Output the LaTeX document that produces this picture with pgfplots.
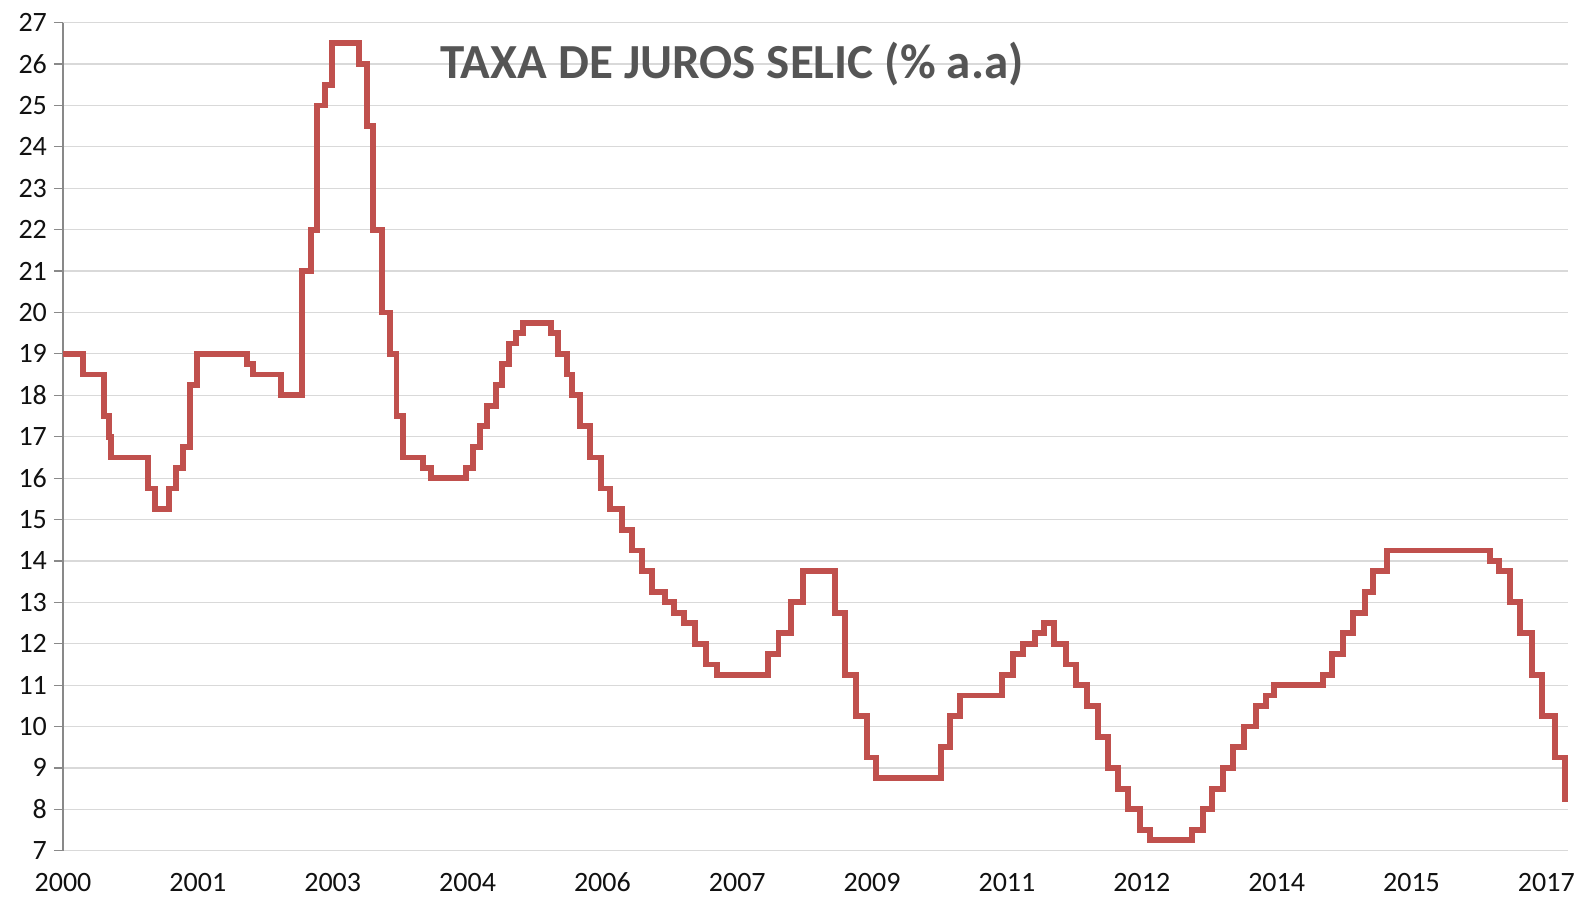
\documentclass[border=0pt]{standalone}
\usepackage{fontspec}
\setmainfont{Carlito}
\usepackage{pgfplots}
\pgfplotsset{compat=1.18}
\usetikzlibrary{calc}
\definecolor{SelicRed}{HTML}{C0504D}
\definecolor{GridGray}{HTML}{D9D9D9}
\definecolor{AxisGray}{HTML}{898989}
\definecolor{TitleGray}{HTML}{555555}
\definecolor{TickBlack}{HTML}{111111}

% Taxa Selic, step points (x in chart units, rate in % a.a.)
\pgfplotstableread{
x      rate
63     19
83.3   18.5
104.3  17.5
109    17
111    16.5
148.3  15.75
155    15.25
169.3  15.75
175.7  16.25
183.3  16.75
190    18.25
197.3  19
246.7  18.75
253.3  18.5
281    18
302.3  21
310.7  22
316.7  25
325    25.5
331.7  26.5
359    26
366.7  24.5
373.3  22
381.7  20
390    19
396.5  17.5
403    16.5
423.3  16.25
430.7  16
466    16.25
473.3  16.75
480    17.25
486.7  17.75
496    18.25
501.7  18.75
509    19.25
516    19.5
522.7  19.75
550.7  19.5
558.3  19
566.7  18.5
571.7  18
580    17.25
590    16.5
600.7  15.75
610    15.25
621.7  14.75
631.7  14.25
642.3  13.75
651.7  13.25
665    13
674    12.75
684    12.5
695    12
706    11.5
717.3  11.25
768.3  11.75
778.5  12.25
791    13
803.3  13.75
835    12.75
845    11.25
856    10.25
866.7  9.25
876    8.75
940.7  9.5
950    10.25
960    10.75
1002.3 11.25
1013.3 11.75
1023.3 12
1035   12.25
1044   12.5
1054   12
1066   11.5
1076   11
1087.3 10.5
1098.3 9.75
1107.7 9
1118.3 8.5
1127.7 8
1140   7.5
1150   7.25
1191.7 7.5
1202.7 8
1211.7 8.5
1223.3 9
1233.3 9.5
1244.3 10
1256   10.5
1266   10.75
1274   11
1323.3 11.25
1331.7 11.75
1342.7 12.25
1352.7 12.75
1365   13.25
1373.3 13.75
1386.7 14.25
1490   14
1499.3 13.75
1510   13
1520   12.25
1531.7 11.25
1541.7 10.25
1555   9.25
1565   8.25
1568   8.25
}\selic

\begin{document}
\begin{tikzpicture}
  \begin{axis}[
      x=0.5pt, y=20.7pt,
      xmin=63, xmax=1568, ymin=7, ymax=27,
      axis lines*=left,
      x axis line style={draw=none},
      y axis line style={AxisGray,line width=0.6pt},
      xtick={63,197.85,332.7,467.55,602.4,737.25,872.1,1006.95,1141.8,1276.65,1411.5,1546.35},
      xticklabels={2000,2001,2003,2004,2006,2007,2009,2011,2012,2014,2015,2017},
      ytick={7,8,...,27},
      xtick style={draw=none},
      ytick style={AxisGray,line width=0.6pt},
      tick align=outside,
      major tick length=4.5pt,
      ymajorgrids,
      grid style={GridGray,line width=0.6pt},
      tick label style={font=\fontsize{14}{15}\selectfont,text=TickBlack},
      xticklabel style={anchor=north,yshift=-2.5pt,text height=10pt,text depth=0pt},
      /pgf/number format/assume math mode=true,
      clip=false,
    ]
    \coordinate (ll) at (rel axis cs:0,0);
    \coordinate (ur) at (rel axis cs:1,1);
    \addplot[const plot,SelicRed,line width=2.9pt] table[x=x,y=rate] {\selic};
    \node[anchor=base,font=\fontsize{24.5}{28}\selectfont\bfseries,text=TitleGray]
      at (axis cs:732,25.64) {TAXA DE JUROS SELIC (\% a.a)};
  \end{axis}
  \pgfresetboundingbox
  \path[use as bounding box] ($(ll)+(-31.5pt,-22.65pt)$) rectangle ($(ur)+(5pt,11.35pt)$);
\end{tikzpicture}
\end{document}
